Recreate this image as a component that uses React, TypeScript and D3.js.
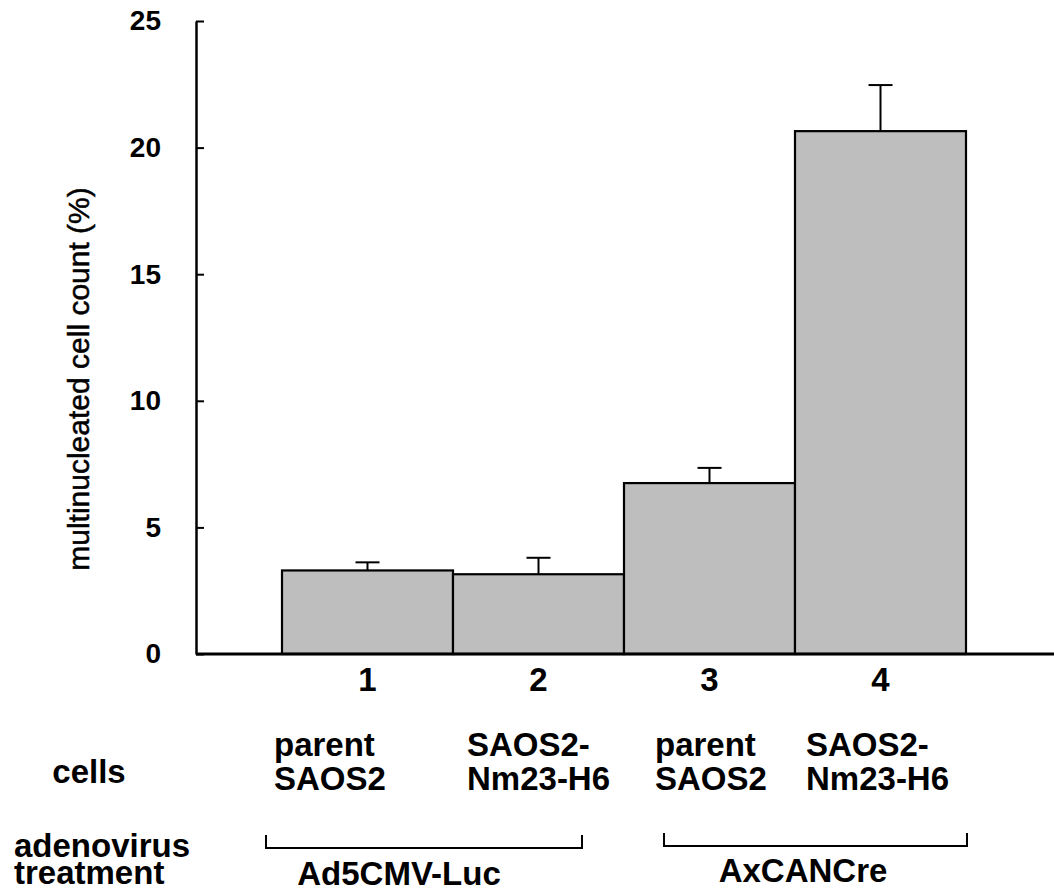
import React, { useRef, useEffect } from 'react';
import { select, scaleBand, scaleLinear, axisLeft, axisBottom } from 'd3';

const categories = ['1', '2', '3', '4'];
const cellLines = [
  ['parent', 'SAOS2'],
  ['SAOS2-', 'Nm23-H6'],
  ['parent', 'SAOS2'],
  ['SAOS2-', 'Nm23-H6'],
];
const values = [3.3, 3.15, 6.75, 20.65];
const errors = [0.32, 0.65, 0.6, 1.82];
const yTicks = [0, 5, 10, 15, 20, 25];
const treatments = ['Ad5CMV-Luc', 'AxCANCre'];
const treatmentBars = [
  ['1', '2'],
  ['3', '4'],
];

const W = 1054;
const H = 892;
const FONT = '"Liberation Sans", Arial, Helvetica, sans-serif';

function App() {
  const svgRef = useRef<SVGSVGElement>(null);

  useEffect(() => {
    const svg = select(svgRef.current);
    svg.selectAll('*').remove();

    const x = scaleBand().domain(categories).range([282, 966]).padding(0);
    const y = scaleLinear().domain([0, 25]).range([654, 21]);
    const axisX = 196;

    // bars
    svg
      .append('g')
      .selectAll('rect')
      .data(values)
      .join('rect')
      .attr('x', (d, i) => x(categories[i]))
      .attr('y', (d) => y(d))
      .attr('width', x.bandwidth())
      .attr('height', (d) => y(0) - y(d))
      .attr('fill', '#bebebe')
      .attr('stroke', '#000')
      .attr('stroke-width', 2.2);

    // error bars, upper half only
    const err = svg.append('g').attr('stroke', '#000').attr('stroke-width', 2);
    values.forEach((v, i) => {
      const cx = x(categories[i]) + x.bandwidth() / 2;
      err.append('line').attr('x1', cx).attr('x2', cx).attr('y1', y(v)).attr('y2', y(v + errors[i]));
      err.append('line').attr('x1', cx - 12).attr('x2', cx + 12).attr('y1', y(v + errors[i])).attr('y2', y(v + errors[i]));
    });

    // y axis
    const yAxis = svg
      .append('g')
      .attr('transform', `translate(${axisX},0)`)
      .call(axisLeft(y).tickValues(yTicks).tickSize(-8).tickSizeOuter(0).tickPadding(35));
    yAxis.select('.domain').attr('stroke-width', 2.5);
    yAxis.selectAll('.tick line').attr('stroke-width', 2);
    yAxis
      .selectAll('text')
      .attr('font-family', FONT)
      .attr('font-size', 28)
      .attr('font-weight', 'bold')
      .attr('fill', '#000');

    // x axis baseline
    svg
      .append('line')
      .attr('x1', axisX)
      .attr('x2', W)
      .attr('y1', y(0))
      .attr('y2', y(0))
      .attr('stroke', '#000')
      .attr('stroke-width', 3);

    const xAxis = svg
      .append('g')
      .attr('transform', `translate(0,${y(0)})`)
      .call(axisBottom(x).tickSize(0).tickPadding(14));
    xAxis.select('.domain').remove();
    xAxis
      .selectAll('text')
      .attr('font-family', FONT)
      .attr('font-size', 33)
      .attr('font-weight', 'bold')
      .attr('fill', '#000');

    // y label
    svg
      .append('text')
      .attr('transform', `translate(89,379) rotate(-90)`)
      .attr('text-anchor', 'middle')
      .attr('font-family', FONT)
      .attr('font-size', 30)
      .attr('fill', '#000')
      .attr('stroke', '#000')
      .attr('stroke-width', 0.5)
      .text('multinucleated cell count (%)');

    const label = (tx, ty, t, anchor = 'start') =>
      svg
        .append('text')
        .attr('x', tx)
        .attr('y', ty)
        .attr('text-anchor', anchor)
        .attr('font-family', FONT)
        .attr('font-size', 33)
        .attr('font-weight', 'bold')
        .attr('fill', '#000')
        .text(t);

    // row labels
    label(89, 783, 'cells', 'middle');
    label(14, 857, 'adenovirus');
    label(14, 884, 'treatment');

    // cell line labels, left aligned near each bar
    const shift = [-8, 14, 31, 11];
    cellLines.forEach((lines, i) => {
      const lx = x(categories[i]) + shift[i];
      lines.forEach((t, j) => label(lx, 756 + j * 34, t));
    });

    // treatment brackets
    const brackets = [
      { l: -16, r: -42, top: 835, bot: 848, tx: 399, ty: 885 },
      { l: 40, r: 1, top: 833, bot: 846, tx: 803, ty: 882 },
    ];
    treatments.forEach((t, k) => {
      const b = brackets[k];
      const x0 = x(treatmentBars[k][0]) + b.l;
      const x1 = x(treatmentBars[k][1]) + x.bandwidth() + b.r;
      svg
        .append('path')
        .attr('d', `M${x0},${b.top}V${b.bot}H${x1}V${b.top}`)
        .attr('fill', 'none')
        .attr('stroke', '#000')
        .attr('stroke-width', 2);
      label(b.tx, b.ty, t, 'middle');
    });
  }, []);

  return (
    <div style={{ position: 'absolute', left: 0, top: 0, background: '#fff' }}>
      <svg ref={svgRef} width={W} height={H} style={{ display: 'block' }} />
    </div>
  );
}

export default App;
